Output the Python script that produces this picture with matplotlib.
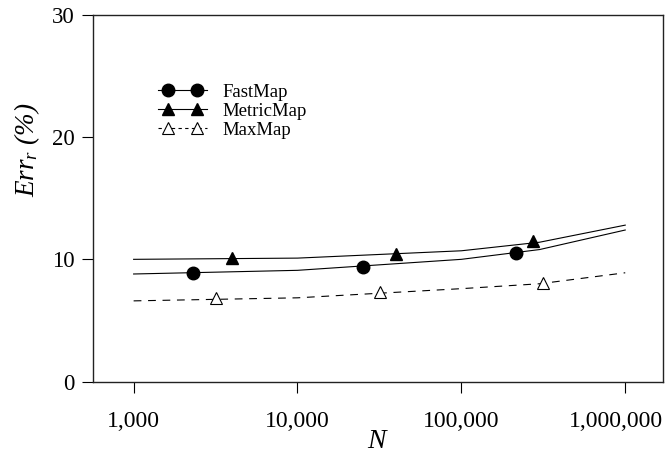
import matplotlib
matplotlib.use("Agg")
import matplotlib.pyplot as plt
from matplotlib.legend_handler import HandlerLine2D, HandlerTuple
from matplotlib.lines import Line2D
from matplotlib.transforms import ScaledTranslation

plt.rcParams['font.family'] = ['Liberation Serif', 'DejaVu Serif']
plt.rcParams['mathtext.fontset'] = 'custom'
plt.rcParams['mathtext.it'] = 'Liberation Serif:italic'
plt.rcParams['mathtext.rm'] = 'Liberation Serif'

# curve nodes (N, error %)
line_n = [1000, 10000, 100000, 300000, 1000000]
fast_line = [8.8, 9.1, 10.0, 10.8, 12.4]
metric_line = [10.0, 10.1, 10.7, 11.4, 12.8]
max_line = [6.6, 6.85, 7.6, 8.0, 8.9]

# marker points
fast_n = [2300, 25000, 215000]
fast_pts = [8.9, 9.35, 10.5]
metric_n = [4000, 40000, 275000]
metric_pts = [10.1, 10.4, 11.5]
max_n = [3200, 32000, 316000]
max_pts = [6.8, 7.3, 8.05]

xticks = [1000, 10000, 100000, 1000000]
xtick_labels = ['1,000', '10,000', '100,000', '1,000,000']
yticks = [0, 10, 20, 30]

fig = plt.figure(figsize=(6.65, 4.66), dpi=100)
ax = fig.add_axes([93/665, 1 - 381.5/466, 570/665, 366.5/466])

lw = 0.8
dash = (0, (7, 6))
ms = 9
ax.plot(line_n, fast_line, color='black', lw=lw)
ax.plot(line_n, metric_line, color='black', lw=lw)
ax.plot(line_n, max_line, color='black', lw=lw, linestyle=dash)
ax.plot(fast_n, fast_pts, 'o', color='black', ms=ms)
ax.plot(metric_n, metric_pts, '^', color='black', ms=ms)
ax.plot(max_n, max_pts, '^', mfc='white', mec='black', mew=0.8, ms=ms)

# legend handles: full-width line + inset markers
ln_fast = Line2D([], [], color='black', lw=lw)
ln_metric = Line2D([], [], color='black', lw=lw)
ln_max = Line2D([], [], color='black', lw=lw, linestyle=(0, (3, 3)))
mk_fast = Line2D([], [], marker='o', ls='none', color='black', ms=ms)
mk_metric = Line2D([], [], marker='^', ls='none', color='black', ms=ms)
mk_max = Line2D([], [], marker='^', ls='none', mfc='white', mec='black',
                mew=0.8, ms=8)
hmap = {tuple: HandlerTuple(ndivide=1)}
for ln in (ln_fast, ln_metric, ln_max):
    hmap[ln] = HandlerLine2D(marker_pad=0)
for mk in (mk_fast, mk_metric, mk_max):
    hmap[mk] = HandlerLine2D(marker_pad=0.56)
ax.legend([(ln_fast, mk_fast), (ln_metric, mk_metric), (ln_max, mk_max)],
          ['FastMap', 'MetricMap', 'MaxMap'], handler_map=hmap,
          loc='upper left', bbox_to_anchor=(0.097, 0.838),
          frameon=False, numpoints=2, handlelength=2.64, fontsize=13.5,
          labelspacing=0.1, borderpad=0, handletextpad=0.8)

ax.set_xscale('log')
ax.set_xlim(565, 1.7e6)
ax.set_ylim(0, 30)
ax.set_xticks(xticks)
ax.set_xticklabels(xtick_labels)
ax.xaxis.set_minor_locator(matplotlib.ticker.NullLocator())
ax.set_yticks(yticks)
ax.tick_params(length=8, width=0.8, direction='out')
ax.tick_params(axis='y', labelsize=16.5, pad=5)
ax.tick_params(axis='x', labelsize=17, pad=13)
for s in ax.spines.values():
    s.set_linewidth(1.0)
    s.set_color('#222222')

ax.set_xlabel('$N$', fontsize=20, labelpad=-2)
ax.set_ylabel(r'$Err_r$ (%)', fontsize=19.5, fontstyle='italic')
ax.yaxis.set_label_coords(-0.09, 0.632)

# last tick label sits a little left of its tick, as in the source
last = ax.get_xticklabels()[-1]
last.set_transform(last.get_transform() + ScaledTranslation(-0.09, 0, fig.dpi_scale_trans))

fig.savefig('out.png', dpi=100)
